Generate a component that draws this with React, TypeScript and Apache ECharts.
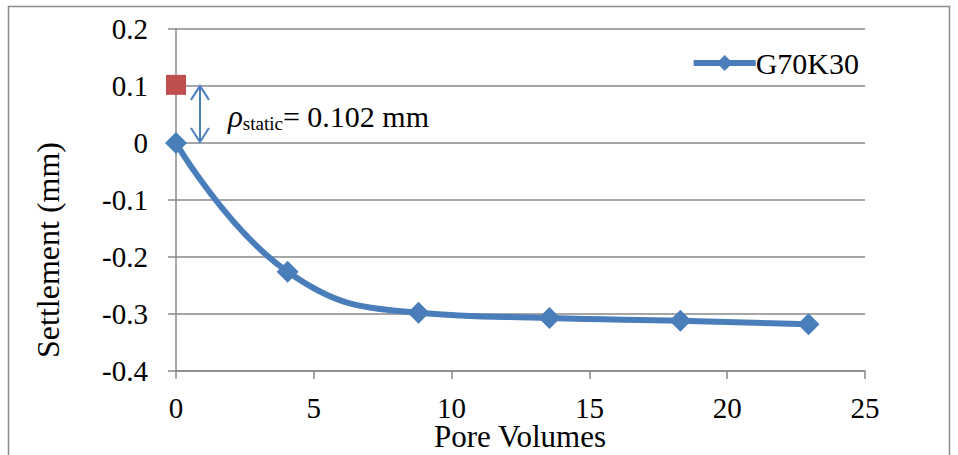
import React, { useEffect, useRef } from "react";
import * as echarts from "echarts";

// Settlement measured against pore volumes flushed
const poreVolumes = [0, 4.05, 8.8, 13.55, 18.3, 22.95];
const settlement = [0, -0.226, -0.298, -0.307, -0.312, -0.318];

// Static settlement before flushing
const staticPoint = [0, 0.102];
const staticLabel = "= 0.102 mm";
const seriesName = "G70K30";
const xTitle = "Pore Volumes";
const yTitle = "Settlement (mm)";

const xTicks = { min: 0, max: 25, interval: 5 };
const yTicks = { min: -0.4, max: 0.2, interval: 0.1 };

const FONT = "Liberation Serif";
const BLUE = "#4a7ebb";
const RED = "#c0504d";
const GRID = "#888888";

export default function App() {
  const ref = useRef<HTMLDivElement>(null);

  useEffect(() => {
    if (!ref.current) return;
    const chart = echarts.init(ref.current, null, { renderer: "svg" });

    const arrowX = 0.87;

    chart.setOption({
      animation: false,
      backgroundColor: "#ffffff",
      textStyle: { fontFamily: FONT, color: "#000" },
      grid: {
        left: 176,
        right: 93,
        top: 29,
        bottom: 84,
        containLabel: false,
        outerBoundsMode: "none",
      },
      legend: {
        data: [seriesName],
        right: 94,
        top: 43,
        itemWidth: 62,
        itemHeight: 20,
        itemGap: 0,
        lineStyle: { width: 6 },
        textStyle: { fontFamily: FONT, fontSize: 30, color: "#000", padding: [0, 0, 0, -5] },
      },
      xAxis: {
        type: "value",
        min: xTicks.min,
        max: xTicks.max,
        interval: xTicks.interval,
        axisLine: { show: true, onZero: false, lineStyle: { color: GRID, width: 1.5 } },
        axisTick: { show: true, length: 8, inside: false, lineStyle: { color: GRID, width: 1.5 } },
        axisLabel: { fontFamily: FONT, fontSize: 29, color: "#000", margin: 22 },
        splitLine: { show: false },
      },
      yAxis: {
        type: "value",
        min: yTicks.min,
        max: yTicks.max,
        interval: yTicks.interval,
        axisLine: { show: true, onZero: false, lineStyle: { color: GRID, width: 1.5 } },
        axisTick: { show: true, length: 8, inside: false, lineStyle: { color: GRID, width: 1.5 } },
        axisLabel: {
          fontFamily: FONT,
          fontSize: 29,
          color: "#000",
          margin: 28,
          formatter: (v: number) => String(Math.round(v * 10) / 10),
        },
        splitLine: { show: true, lineStyle: { color: GRID, width: 1.5 } },
      },
      series: [
        {
          name: seriesName,
          type: "line",
          data: poreVolumes.map((x, i) => [x, settlement[i]]),
          smooth: 0.45,
          symbol: "diamond",
          symbolSize: 22,
          lineStyle: { color: BLUE, width: 6 },
          itemStyle: { color: BLUE, opacity: 1 },
          z: 5,
        },
        {
          name: "static",
          type: "scatter",
          data: [staticPoint],
          symbol: "rect",
          symbolSize: 20,
          itemStyle: { color: RED, opacity: 1 },
          z: 6,
        },
        {
          name: "annotation",
          type: "custom",
          data: [[arrowX, staticPoint[1], 0]],
          z: 4,
          renderItem: (params: any, api: any) => {
            const top = api.coord([api.value(0), api.value(1)]);
            const bot = api.coord([api.value(0), api.value(2)]);
            const h = 15;
            const w = 9;
            const ls = { stroke: BLUE, lineWidth: 2, fill: "none" };
            const midY = (top[1] + bot[1]) / 2;
            return {
              type: "group",
              children: [
                { type: "line", shape: { x1: top[0], y1: top[1] + 1, x2: bot[0], y2: bot[1] - 1 }, style: ls },
                {
                  type: "polyline",
                  shape: { points: [[top[0] - w, top[1] + h], [top[0], top[1] + 1], [top[0] + w, top[1] + h]] },
                  style: ls,
                },
                {
                  type: "polyline",
                  shape: { points: [[bot[0] - w, bot[1] - h], [bot[0], bot[1] - 1], [bot[0] + w, bot[1] - h]] },
                  style: ls,
                },
                {
                  type: "text",
                  x: top[0] + 28,
                  y: midY + 3,
                  style: {
                    text: "{rho|ρ}{sub|static}{eq|" + staticLabel + "}",
                    verticalAlign: "middle",
                    align: "left",
                    rich: {
                      rho: { fontFamily: FONT, fontSize: 31, fontStyle: "italic", fill: "#000", color: "#000" },
                      sub: {
                        fontFamily: FONT,
                        fontSize: 19,
                        fill: "#000",
                        color: "#000",
                        verticalAlign: "bottom",
                        padding: [14, 0, 0, 0],
                      },
                      eq: { fontFamily: FONT, fontSize: 30, fill: "#000", color: "#000" },
                    },
                  },
                },
              ],
            };
          },
        },
      ],
      graphic: [
        {
          type: "rect",
          shape: { x: 8.5, y: 6.5, width: 941, height: 470 },
          style: { fill: "none", stroke: "#8c8c8c", lineWidth: 1.5 },
          silent: true,
          z: 0,
        },
        {
          type: "text",
          x: 48,
          y: 250,
          rotation: Math.PI / 2,
          style: {
            text: yTitle,
            fontFamily: FONT,
            fontSize: 32,
            fill: "#000",
            align: "center",
            verticalAlign: "middle",
          },
          silent: true,
        },
        {
          type: "text",
          x: 520,
          y: 436,
          style: {
            text: xTitle,
            fontFamily: FONT,
            fontSize: 31,
            fill: "#000",
            align: "center",
            verticalAlign: "middle",
          },
          silent: true,
        },
      ],
    });

    return () => chart.dispose();
  }, []);

  return (
    <div
      ref={ref}
      style={{ position: "fixed", left: 0, top: 0, width: 958, height: 455 }}
    />
  );
}
